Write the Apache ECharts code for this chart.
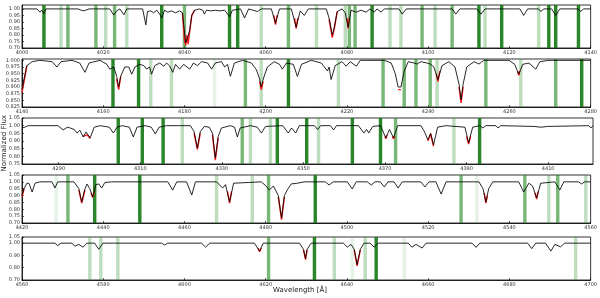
<!DOCTYPE html>
<html><head><meta charset="utf-8">
<script src="https://cdn.jsdelivr.net/npm/echarts@6/dist/echarts.min.js"></script>
<style>html,body{margin:0;padding:0;background:#fff}#c{width:600px;height:298px}</style>
</head><body><div id="c"></div>
<script>
// ---- Data (wavelength in Å, normalized flux) ----
const spec1 = [[4000.0,1.0],[4003.7,1.0],[4004.4,0.975],[4004.9,0.99],[4005.4,0.965],[4005.9,1.0],[4013.8,1.0],[4014.2,0.99],[4015.0,0.985],[4015.7,0.99],[4016.5,1.0],[4021.6,1.0],[4022.6,0.953],[4023.3,0.985],[4024.1,1.0],[4025.1,0.955],[4025.8,1.0],[4029.7,1.0],[4030.5,0.877],[4030.9,0.98],[4031.7,0.985],[4032.4,0.97],[4033.2,0.99],[4033.9,0.96],[4034.4,0.93],[4035.1,0.99],[4035.9,0.975],[4036.8,0.985],[4037.8,0.97],[4038.8,0.985],[4039.5,0.97],[4040.3,0.74],[4040.8,0.78],[4041.3,0.84],[4041.8,0.95],[4042.5,0.99],[4043.7,1.0],[4044.5,0.99],[4044.9,0.96],[4045.4,0.99],[4046.7,0.985],[4047.6,0.99],[4048.6,0.985],[4049.9,0.99],[4051.1,0.94],[4051.8,0.99],[4053.8,1.0],[4054.8,0.93],[4055.8,1.0],[4058.0,0.98],[4058.9,1.0],[4061.4,1.0],[4062.4,0.89],[4063.4,1.0],[4066.3,1.0],[4067.5,0.86],[4068.5,0.985],[4069.5,0.95],[4070.5,1.0],[4074.9,1.0],[4075.6,0.93],[4076.4,0.80],[4076.9,0.86],[4077.6,0.98],[4078.8,1.0],[4079.6,0.97],[4080.3,0.86],[4081.0,0.99],[4082.3,0.975],[4083.5,0.99],[4084.7,0.975],[4085.7,1.0],[4086.7,0.975],[4087.4,1.0],[4088.4,0.975],[4089.2,1.0],[4092.8,1.0],[4093.6,0.96],[4094.6,1.0],[4105.9,1.0],[4106.8,0.96],[4107.8,1.0],[4112.0,1.0],[4113.0,0.96],[4114.0,1.0],[4122.6,1.0],[4123.5,0.95],[4124.5,1.0],[4127.2,1.0],[4127.7,0.98],[4128.5,1.0],[4130.4,1.0],[4131.4,0.95],[4132.4,1.0],[4137.0,1.0],[4137.5,0.98],[4138.3,1.0],[4140.0,1.0]];
const spec2 = [[4140.0,0.89],[4140.5,0.93],[4141.2,0.98],[4142.5,0.995],[4144.4,1.0],[4147.4,0.995],[4148.6,0.975],[4149.6,0.995],[4152.3,1.0],[4154.2,0.99],[4155.5,0.955],[4156.5,0.99],[4159.2,1.0],[4160.9,0.985],[4161.6,0.967],[4162.6,0.975],[4163.3,0.94],[4163.8,0.90],[4164.3,0.94],[4165.3,0.975],[4166.3,0.975],[4167.0,0.948],[4167.8,0.975],[4169.0,0.985],[4170.0,0.98],[4170.7,0.967],[4171.4,0.975],[4171.9,0.948],[4172.7,0.98],[4173.9,0.99],[4174.9,0.978],[4175.6,0.99],[4176.4,0.978],[4177.1,0.955],[4177.8,0.985],[4178.8,0.967],[4179.8,0.985],[4181.3,0.967],[4182.2,0.99],[4183.2,0.98],[4184.2,0.995],[4185.7,0.99],[4186.7,0.967],[4187.6,0.99],[4189.1,0.995],[4189.9,0.975],[4190.6,0.985],[4191.3,0.94],[4192.3,0.99],[4194.3,1.0],[4196.5,0.99],[4197.7,0.965],[4198.5,0.93],[4198.9,0.90],[4199.4,0.93],[4200.4,0.975],[4202.1,0.995],[4203.4,0.985],[4204.1,0.967],[4205.1,0.99],[4206.8,0.985],[4207.8,0.94],[4208.8,0.985],[4211.2,1.0],[4213.7,0.99],[4215.2,0.96],[4215.6,0.975],[4216.1,0.928],[4217.1,0.98],[4218.8,0.995],[4219.8,0.978],[4220.8,0.995],[4222.3,0.978],[4223.3,1.0],[4229.2,1.0],[4230.9,0.99],[4231.9,0.95],[4232.6,0.90],[4233.3,0.90],[4234.1,0.96],[4235.1,0.995],[4236.5,0.99],[4237.3,0.986],[4238.2,0.995],[4239.7,0.99],[4240.5,0.986],[4241.4,0.975],[4242.4,0.928],[4243.4,0.98],[4245.1,0.995],[4246.6,0.975],[4247.6,0.91],[4248.1,0.852],[4248.6,0.91],[4249.5,0.975],[4251.3,0.995],[4252.5,0.986],[4253.7,1.0],[4259.9,1.0],[4261.3,0.985],[4262.3,0.948],[4263.3,0.985],[4264.8,0.99],[4266.5,0.967],[4267.5,0.995],[4269.7,1.0],[4280.0,1.0]];
const spec3 = [[4281.0,0.985],[4281.7,0.99],[4282.5,1.0],[4289.8,1.0],[4291.1,0.972],[4292.1,0.99],[4292.8,0.985],[4293.8,0.975],[4294.5,0.952],[4295.2,0.97],[4296.0,0.926],[4296.7,0.959],[4297.7,0.92],[4298.7,0.99],[4300.2,1.0],[4302.4,0.99],[4303.4,0.952],[4304.3,0.99],[4305.6,1.0],[4307.3,0.99],[4308.3,0.926],[4309.2,0.99],[4311.2,1.0],[4312.7,0.99],[4313.7,0.946],[4314.6,0.99],[4316.4,1.0],[4322.3,1.0],[4323.2,0.96],[4324.0,0.854],[4324.7,0.96],[4325.7,0.995],[4326.9,0.99],[4327.7,0.95],[4328.4,0.789],[4329.1,0.93],[4329.9,0.985],[4332.1,1.0],[4333.1,0.99],[4333.8,0.926],[4334.5,0.985],[4337.0,1.0],[4338.7,0.99],[4339.7,0.952],[4340.7,0.995],[4344.9,1.0],[4346.3,0.952],[4347.1,0.985],[4348.1,0.952],[4349.0,1.0],[4352.7,1.0],[4353.5,0.975],[4354.2,1.0],[4356.6,1.0],[4357.4,0.972],[4358.1,1.0],[4363.5,1.0],[4364.8,0.952],[4365.5,0.975],[4366.0,0.952],[4367.0,0.995],[4368.9,1.0],[4370.2,0.92],[4371.1,0.975],[4372.1,0.92],[4373.1,1.0],[4378.8,1.0],[4379.7,0.96],[4380.5,0.907],[4381.2,0.95],[4381.9,0.874],[4382.9,0.99],[4384.9,1.0],[4389.6,0.99],[4390.5,0.887],[4391.5,0.99],[4393.2,1.0],[4394.0,0.985],[4394.7,1.0],[4397.2,1.0],[4397.7,0.985],[4398.4,1.0],[4406.5,0.995],[4408.2,0.99],[4409.9,0.995],[4420.0,1.0],[4420.5,0.985],[4421.0,1.0]];
const spec4 = [[4420.0,0.90],[4420.5,0.95],[4421.2,0.99],[4421.7,0.99],[4422.5,0.926],[4423.2,0.99],[4424.4,1.0],[4427.4,1.0],[4428.1,0.955],[4428.8,1.0],[4432.8,1.0],[4434.0,0.95],[4434.7,0.853],[4435.5,0.95],[4436.0,0.984],[4436.7,0.95],[4437.4,0.89],[4438.2,0.98],[4438.9,0.985],[4439.6,0.955],[4440.4,0.995],[4442.1,1.0],[4455.9,1.0],[4457.1,0.94],[4458.1,1.0],[4460.5,1.0],[4461.8,0.904],[4462.7,1.0],[4467.9,1.0],[4469.4,0.955],[4470.1,0.98],[4471.1,0.853],[4472.1,0.99],[4478.9,1.0],[4479.9,0.975],[4480.9,0.94],[4481.9,0.97],[4483.1,0.90],[4483.9,0.737],[4484.6,0.90],[4485.3,0.94],[4486.3,0.985],[4487.8,0.99],[4489.5,1.0],[4494.7,1.0],[4495.6,0.977],[4496.6,1.0],[4500.1,1.0],[4501.3,0.948],[4502.3,1.0],[4505.0,1.0],[4506.0,0.977],[4506.9,1.0],[4508.2,1.0],[4509.2,0.963],[4510.1,1.0],[4511.6,1.0],[4512.6,0.955],[4513.6,1.0],[4518.2,1.0],[4519.2,0.963],[4520.2,1.0],[4521.9,1.0],[4523.2,0.911],[4524.4,1.0],[4532.5,1.0],[4533.5,0.95],[4534.2,0.853],[4534.9,0.95],[4535.9,1.0],[4542.3,1.0],[4543.5,0.926],[4544.8,0.99],[4545.7,0.97],[4546.7,0.882],[4547.7,0.99],[4551.2,1.0],[4552.4,0.94],[4553.4,1.0],[4557.0,1.0],[4557.8,0.985],[4558.5,1.0],[4560.0,1.0]];
const spec5 = [[4560.0,1.0],[4568.1,1.0],[4568.8,0.98],[4569.6,1.0],[4572.3,1.0],[4573.0,0.975],[4574.0,0.99],[4575.0,0.967],[4576.0,1.0],[4577.9,1.0],[4578.9,0.95],[4579.9,1.0],[4594.4,1.0],[4595.1,0.985],[4595.9,1.0],[4604.2,1.0],[4605.2,0.967],[4606.2,1.0],[4617.2,1.0],[4618.5,0.935],[4619.4,1.0],[4628.3,1.0],[4629.3,0.95],[4629.8,0.875],[4630.2,0.95],[4631.2,1.0],[4639.1,1.0],[4640.1,0.967],[4641.0,0.99],[4641.8,0.95],[4642.5,0.825],[4643.3,0.95],[4644.2,1.0],[4645.7,1.0],[4646.7,0.967],[4647.7,1.0],[4655.1,1.0],[4656.0,0.967],[4657.0,0.99],[4658.5,0.96],[4659.5,1.0],[4670.8,1.0],[4671.8,0.965],[4672.7,1.0],[4684.5,1.0],[4685.5,0.955],[4686.5,1.0],[4688.9,1.0],[4690.2,0.935],[4691.2,0.99],[4692.6,0.97],[4693.6,1.0],[4700.0,1.0]];

// observed spectrum, deeper/noisier line cores ('-' breaks the line)
const obs1 = [[4039.5,0.97],[4040.0,0.76],[4040.3,0.72],[4040.6,0.80],[4040.9,0.73],[4041.3,0.83],[4041.8,0.95],[4042.5,0.99],[4043.0,'-'],[4062.0,0.95],[4062.4,0.88],[4062.8,0.95],[4063.0,'-'],[4067.1,0.93],[4067.5,0.85],[4067.9,0.93],[4068.2,'-'],[4075.6,0.92],[4076.4,0.78],[4076.9,0.85],[4077.6,0.98],[4078.0,'-'],[4080.0,0.93],[4080.3,0.85],[4080.6,0.93]];
const obs2 = [[4140.0,0.88],[4140.5,0.92],[4141.2,0.98],[4141.5,'-'],[4163.3,0.93],[4163.8,0.89],[4164.3,0.94],[4164.6,'-'],[4198.5,0.92],[4198.9,0.89],[4199.4,0.92],[4199.8,'-'],[4232.6,0.89],[4233.3,0.89],[4233.8,'-'],[4242.0,0.95],[4242.4,0.92],[4242.9,0.96],[4243.2,'-'],[4247.6,0.90],[4248.1,0.84],[4248.6,0.90],[4249.0,'-'],[4262.0,0.96],[4262.3,0.944],[4262.6,0.96]];
const obs3 = [[4296.0,0.93],[4297.0,0.94],[4297.7,0.915],[4298.2,'-'],[4323.2,0.95],[4324.0,0.845],[4324.7,0.95],[4325.2,'-'],[4327.7,0.94],[4328.4,0.775],[4329.1,0.92],[4329.6,'-'],[4370.0,0.93],[4370.2,0.915],[4370.5,0.94],[4370.8,'-'],[4371.8,0.93],[4372.1,0.915],[4372.4,0.93],[4372.7,'-'],[4380.5,0.90],[4381.2,0.945],[4381.9,0.865],[4382.4,'-'],[4390.0,0.93],[4390.5,0.88],[4391.0,0.93]];
const obs4 = [[4420.0,0.89],[4420.5,0.95],[4421.0,'-'],[4434.0,0.94],[4434.7,0.845],[4435.5,0.94],[4436.0,'-'],[4437.0,0.92],[4437.4,0.885],[4437.8,0.93],[4438.0,'-'],[4470.6,0.93],[4471.1,0.845],[4471.6,0.93],[4472.0,'-'],[4483.1,0.89],[4483.9,0.725],[4484.6,0.89],[4485.0,'-'],[4533.8,0.92],[4534.2,0.845],[4534.6,0.90],[4535.0,'-'],[4546.3,0.92],[4546.7,0.875],[4547.1,0.93]];
const obs5 = [[4618.1,0.96],[4618.5,0.93],[4618.9,0.96],[4619.2,'-'],[4629.3,0.945],[4629.8,0.865],[4630.2,0.945],[4630.6,'-'],[4641.8,0.945],[4642.5,0.815],[4643.3,0.945]];

// line-mask bands: [centre wavelength, strength level]
const bands1 = [[4005.4,3],[4009.6,1],[4011.3,2],[4018.2,2],[4020.6,1],[4022.8,2],[4025.8,1],[4034.4,3],[4040.0,2],[4051.1,3],[4053.1,3],[4058.9,1],[4065.6,2],[4072.5,1],[4079.6,1],[4080.6,2],[4082.0,2],[4086.2,3],[4090.6,1],[4093.3,1],[4098.5,2],[4101.7,1],[4105.9,2],[4112.5,3],[4114.0,1],[4118.1,3],[4127.2,1],[4129.7,3],[4131.4,3],[4137.0,3]];
const bands2 = [[4162.4,3],[4168.7,3],[4171.7,1],[4176.8,1],[4187.4,0],[4195.0,2],[4198.9,1],[4205.6,3],[4217.9,1],[4228.9,2],[4234.1,2],[4237.0,2],[4240.5,2],[4242.2,1],[4254.2,2],[4262.8,1],[4271.4,2],[4277.8,3]];
const bands3 = [[4304.6,3],[4310.5,3],[4315.6,3],[4320.3,1],[4335.0,2],[4337.0,1],[4341.9,1],[4343.6,3],[4350.8,3],[4353.7,1],[4362.0,3],[4368.9,3],[4372.6,2],[4386.9,1],[4393.2,3]];
const bands4 = [[4428.4,0],[4431.3,2],[4437.9,3],[4449.0,3],[4467.9,1],[4476.7,1],[4480.7,2],[4492.2,3],[4528.1,2],[4532.0,0],[4543.8,2],[4549.7,1],[4551.9,2],[4558.8,1]];
const bands5 = [[4576.7,1],[4579.4,1],[4583.6,1],[4620.7,2],[4632.0,3],[4636.9,1],[4641.3,0],[4644.5,1],[4647.2,3],[4654.1,0],[4696.3,1]];

// axis ranges and ticks
const xRanges = [[4000,4140],[4140,4280],[4281,4421],[4420,4560],[4560,4700]];
const xTicks1 = [4000,4020,4040,4060,4080,4100,4120,4140];
const xTicks2 = [4140,4160,4180,4200,4220,4240,4260,4280];
const xTicks3 = [4290,4310,4330,4350,4370,4390,4410];
const xTicks4 = [4420,4440,4460,4480,4500,4520,4540,4560];
const xTicks5 = [4560,4580,4600,4620,4640,4660,4680,4700];
const yRanges = [[0.70,1.03,0.05],[0.825,1.005,0.025],[0.75,1.05,0.05],[0.70,1.05,0.05],[0.70,1.05,0.1]];
const yDecimals = [2,3,2,2,2];

// ---- Build chart ----
const specs = [spec1,spec2,spec3,spec4,spec5];
const obs = [obs1,obs2,obs3,obs4,obs5];
const bands = [bands1,bands2,bands3,bands4,bands5];
const xTicks = [xTicks1,xTicks2,xTicks3,xTicks4,xTicks5];
const tops = [5,59,118,175,237];
const heights = [43,48,46,48,43];
const bandColors = {0:'rgba(70,160,70,0.14)',1:'rgba(50,150,50,0.32)',2:'rgba(30,135,30,0.6)',3:'rgba(20,120,20,0.9)'};
const bandHalf = 0.42;

const grid=[], xAxis=[], yAxis=[], series=[];
for (let i=0;i<5;i++){
  grid.push({left:22,right:7,top:tops[i],height:heights[i],show:true,borderColor:'#000',borderWidth:0.8,backgroundColor:'transparent'});
  xAxis.push({type:'value',gridIndex:i,min:xRanges[i][0],max:xRanges[i][1],
    axisLine:{show:true,lineStyle:{color:'#000',width:0.8}},
    axisTick:{show:true,inside:true,length:2,customValues:xTicks[i],lineStyle:{color:'#000',width:0.6}},
    axisLabel:{fontSize:5,margin:2,color:'#333',fontFamily:'DejaVu Sans',customValues:xTicks[i],formatter:v=>String(Math.round(v))},
    splitLine:{show:false}});
  const yr=yRanges[i];
  yAxis.push({type:'value',gridIndex:i,min:yr[0],max:yr[1],interval:yr[2],
    axisLine:{show:true,lineStyle:{color:'#000',width:0.8}},
    axisTick:{show:true,inside:true,length:2,lineStyle:{color:'#000',width:0.6}},
    axisLabel:{fontSize:5,margin:2,color:'#333',fontFamily:'DejaVu Sans',showMaxLabel:(i>=2),formatter:v=>v.toFixed(yDecimals[i])},
    splitLine:{show:false}});
  // red observed spectrum (visible in line cores)
  series.push({type:'line',xAxisIndex:i,yAxisIndex:i,data:obs[i],showSymbol:false,silent:true,connectNulls:false,
    lineStyle:{color:'#ff1a1a',width:1.4},z:2,animation:false});
  // black model
  series.push({type:'line',xAxisIndex:i,yAxisIndex:i,data:specs[i],showSymbol:false,silent:true,
    lineStyle:{color:'#000',width:0.85},z:3,animation:false});
  // green bands
  series.push({type:'line',xAxisIndex:i,yAxisIndex:i,data:specs[i],showSymbol:false,silent:true,
    lineStyle:{width:0,opacity:0},z:4,animation:false,
    markArea:{silent:true,animation:false,
      data:bands[i].map(b=>[{xAxis:b[0]-bandHalf,itemStyle:{color:bandColors[b[1]]}},{xAxis:b[0]+bandHalf}])}});
}

const chart = echarts.init(document.getElementById('c'),null,{renderer:'canvas'});
chart.setOption({
  animation:false,
  grid, xAxis, yAxis, series,
  graphic:[
    {type:'text',left:1,top:115,rotation:Math.PI/2,style:{text:'Normalized Flux',fontSize:7,fill:'#222',fontFamily:'DejaVu Sans'}},
    {type:'text',left:'center',top:287,style:{text:'Wavelength [Å]',fontSize:7,fill:'#222',fontFamily:'DejaVu Sans'}}
  ]
});
</script></body></html>
